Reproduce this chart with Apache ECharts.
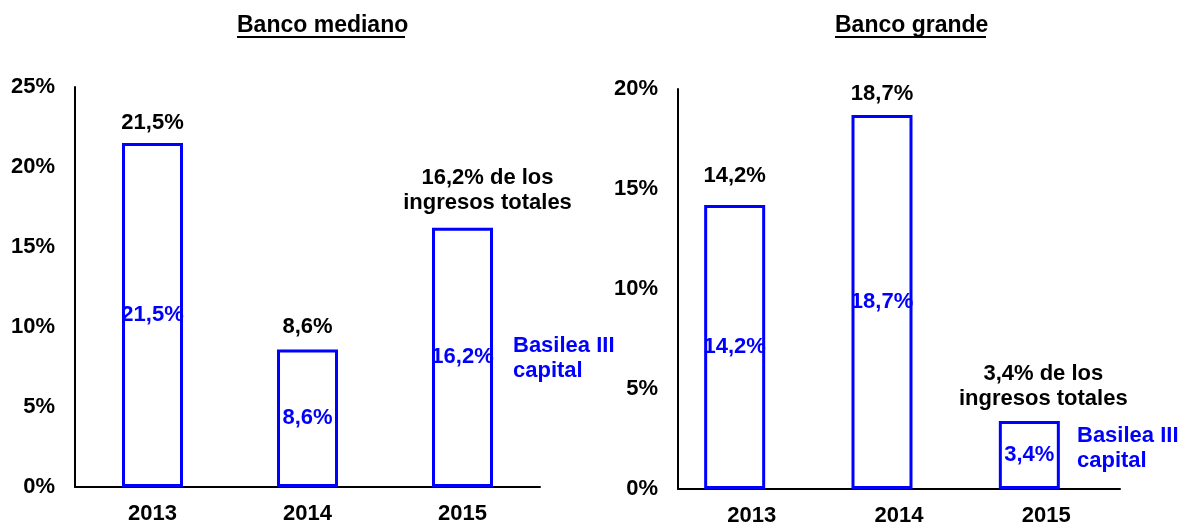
<!DOCTYPE html>
<html>
<head>
<meta charset="utf-8">
<style>
  html, body { margin: 0; padding: 0; background: #fff; }
  #chart { width: 1179px; height: 523px; }
</style>
</head>
<body>
<div id="chart"></div>
<script src="https://cdn.jsdelivr.net/npm/echarts@6/dist/echarts.min.js"></script>
<script>
// datos
const years = ['2013', '2014', '2015'];
const medianoValores = [21.5, 8.6, 16.2];
const grandeValores = [14.2, 18.7, 3.4];
const medianoNotas = ['', '', ' de los\ningresos totales'];
const grandeNotas = ['', '', ' de los\ningresos totales'];
const medianoTicks = [0, 5, 10, 15, 20, 25];
const grandeTicks = [0, 5, 10, 15, 20];

const FONT = '"Liberation Sans", Arial, sans-serif';
const BLUE = '#0000ff';

const fmt = v => v.toFixed(1).replace('.', ',') + '%';

function valueAxis(gridIndex, ticks, show) {
  return {
    type: 'value', gridIndex: gridIndex,
    min: ticks[0], max: ticks[ticks.length - 1], interval: ticks[1] - ticks[0],
    show: show,
    axisLine: { show: true, lineStyle: { color: '#000', width: 2 } },
    axisTick: { show: false },
    splitLine: { show: false },
    axisLabel: {
      formatter: '{value}%', color: '#000', fontSize: 22, fontWeight: 'bold',
      fontFamily: FONT, margin: 20, padding: [5, 0, 0, 0]
    }
  };
}

function catAxis(gridIndex, show, margin) {
  return {
    type: 'category', gridIndex: gridIndex, data: years, show: show,
    axisLine: { show: true, lineStyle: { color: '#000', width: 2 } },
    axisTick: { show: false },
    axisLabel: { color: '#000', fontSize: 22, fontWeight: 'bold', fontFamily: FONT, margin: margin }
  };
}

// dos series por panel: el marco con etiqueta arriba y otra invisible con etiqueta dentro
function barPair(axisIndex, valores, notas, gaps, shifts) {
  return [
    {
      type: 'bar', xAxisIndex: axisIndex, yAxisIndex: axisIndex, barWidth: 61, barGap: '-100%',
      data: valores.map((v, i) => ({ value: v, label: { distance: gaps[i], offset: [shifts[i], 0] } })),
      itemStyle: { color: 'rgba(0,0,0,0)', borderColor: BLUE, borderWidth: 3 },
      label: {
        show: true, position: 'top', color: '#000', fontSize: 22, fontWeight: 'bold',
        fontFamily: FONT, lineHeight: 25,
        formatter: p => fmt(p.value) + notas[p.dataIndex]
      },
      silent: true
    },
    {
      type: 'bar', xAxisIndex: axisIndex, yAxisIndex: axisIndex, barWidth: 61, barGap: '-100%',
      data: valores,
      itemStyle: { color: 'rgba(0,0,0,0)' },
      label: {
        show: true, position: 'inside', color: BLUE, fontSize: 22, fontWeight: 'bold',
        fontFamily: FONT, padding: [4, 0, 0, 0], formatter: p => fmt(p.value)
      },
      silent: true
    }
  ];
}

const chart = echarts.init(document.getElementById('chart'));

chart.setOption({
  backgroundColor: '#fff',
  animation: false,
  grid: [
    { left: 75, top: 87, width: 465, height: 400, outerBoundsMode: 'none' },
    { left: 678, top: 89, width: 442, height: 400, outerBoundsMode: 'none' },
    // las barras del panel derecho van algo corridas a la izquierda
    { left: 661, top: 89, width: 442, height: 400, outerBoundsMode: 'none' }
  ],
  xAxis: [catAxis(0, true, 16), catAxis(1, true, 16), catAxis(2, false, 16)],
  yAxis: [
    valueAxis(0, medianoTicks, true),
    valueAxis(1, grandeTicks, true),
    valueAxis(2, grandeTicks, false)
  ],
  series: [
    ...barPair(0, medianoValores, medianoNotas, [8, 10, 12], [0, 0, 25]),
    ...barPair(2, grandeValores, grandeNotas, [17, 9, 10], [0, 0, 14])
  ],
  graphic: [
    {
      type: 'text', left: 237, top: 14,
      style: { text: 'Banco mediano', font: 'bold 23px ' + FONT, fill: '#000' }
    },
    { type: 'line', shape: { x1: 237, y1: 37, x2: 405, y2: 37 }, style: { stroke: '#000', lineWidth: 2 } },
    {
      type: 'text', left: 835, top: 14,
      style: { text: 'Banco grande', font: 'bold 23px ' + FONT, fill: '#000' }
    },
    { type: 'line', shape: { x1: 835, y1: 37, x2: 986, y2: 37 }, style: { stroke: '#000', lineWidth: 2 } },
    {
      type: 'text', left: 513, top: 333,
      style: { text: 'Basilea III\ncapital', font: 'bold 22px ' + FONT, fill: BLUE, lineHeight: 25 }
    },
    {
      type: 'text', left: 1077, top: 423,
      style: { text: 'Basilea III\ncapital', font: 'bold 22px ' + FONT, fill: BLUE, lineHeight: 25 }
    }
  ]
});
</script>
</body>
</html>
